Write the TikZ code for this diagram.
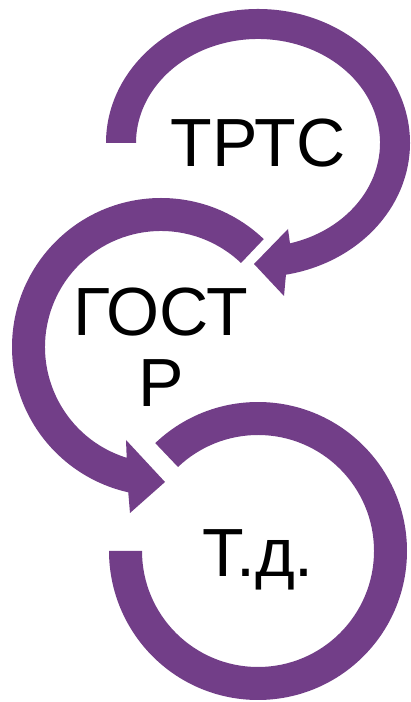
\documentclass[tikz,border=0pt]{standalone}
\usepackage{fontspec}
\setmainfont{Liberation Sans}
\usetikzlibrary{calc}
\definecolor{arcpurple}{RGB}{114,62,136}
\begin{document}
\begin{tikzpicture}[x=0.02cm,y=0.02cm,
  ring/.style={fill=arcpurple, draw=none},
  txt/.style={font=\fontsize{38.8}{40.25}\selectfont, inner sep=0pt, align=center, text=black}]
\useasboundingbox (0,0) rectangle (411,702);
\coordinate (c1) at (258,559);
\coordinate (c2) at (161,355);
\coordinate (c3) at (258,151);
% circular arrow 1 (top)
\fill[ring] ($(c1)+(180:152 and 134)$)
  arc[start angle=180, end angle=-79.4, x radius=152, y radius=134]
  -- (284,406) -- (254,438) -- (288,473)
  -- ($(c1)+(-74.8:122 and 104)$)
  arc[start angle=-74.8, end angle=180, x radius=122, y radius=104] -- cycle;
% circular arrow 2 (middle)
\fill[ring] ($(c2)+(46.4:149)$)
  arc[start angle=46.4, end angle=257.3, radius=149]
  -- (130,189) -- (165,220) -- (126,262)
  -- ($(c2)+(252.8:116)$)
  arc[start angle=252.8, end angle=46.4, radius=116] -- cycle;
% circular arc 3 (bottom)
\fill[ring] ($(c3)+(133.6:149)$)
  arc[start angle=133.6, end angle=-180, radius=149]
  -- ($(c3)+(180:116)$)
  arc[start angle=-180, end angle=133.6, radius=116] -- cycle;
% texts
\node[txt, anchor=base] (t1) at (258,535) {ТРТС};
\node[txt] (t2) at (161,354.5) {ГОСТ\\Р};
\node[txt, anchor=base] (t3) at (258,125) {Т.д.};
\end{tikzpicture}
\end{document}
